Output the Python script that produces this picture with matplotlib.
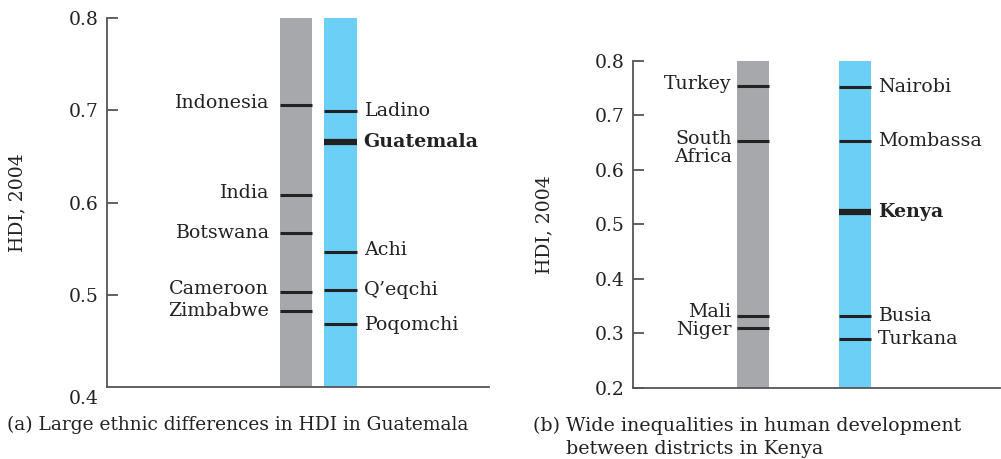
import matplotlib
matplotlib.use("Agg")
import matplotlib.pyplot as plt
import matplotlib.transforms as mtransforms

plt.rcParams['font.family'] = ['DejaVu Serif']
plt.rcParams['font.size'] = 13.7

GRAY = '#a7a8ac'
BLUE = '#6bcff6'
AXC = '#555555'
INK = '#222222'

# panel (a): Guatemala
a_left_names = ['Indonesia', 'India', 'Botswana', 'Cameroon', 'Zimbabwe']
a_left_vals = [0.705, 0.608, 0.567, 0.503, 0.483]
a_right_names = ['Ladino', 'Guatemala', 'Achi', "Q\u2019eqchi", 'Poqomchi']
a_right_vals = [0.699, 0.665, 0.546, 0.505, 0.469]
a_bold = 'Guatemala'
a_ticks = [0.4, 0.5, 0.6, 0.7, 0.8]

# panel (b): Kenya
b_left_names = ['Turkey', 'South\nAfrica', 'Mali', 'Niger']
b_left_vals = [0.754, 0.653, 0.332, 0.310]
b_right_names = ['Nairobi', 'Mombassa', 'Kenya', 'Busia', 'Turkana']
b_right_vals = [0.751, 0.653, 0.522, 0.331, 0.290]
b_bold = 'Kenya'
b_ticks = [0.2, 0.3, 0.4, 0.5, 0.6, 0.7, 0.8]

# small vertical nudges (pixels) where labels sit close together
nudge = {'Cameroon': 3, 'Indonesia': 2, 'India': 2, 'Mali': 4, 'Niger': -2,
         'Turkey': 2, 'Achi': 2, 'Poqomchi': -1}


def panel(ax, ylo, yhi, ticks, lnames, lvals, rnames, rvals, bold, w, xlim, lpad):
    xs = [0, 1]
    ax.bar(xs, yhi - ylo, bottom=ylo, width=w, color=[GRAY, BLUE], zorder=1)
    for x, names, vals, side in [(0, lnames, lvals, 'l'), (1, rnames, rvals, 'r')]:
        for n, v in zip(names, vals):
            lw = 4.5 if n == bold else 2.2
            ax.hlines(v, x - w / 2, x + w / 2, color=INK, lw=lw, zorder=2)
            dy = nudge.get(n, 0)
            if side == 'l':
                va = 'center'
                if '\n' in n:
                    va = 'top'
                    dy = 11
                ax.annotate(n, (x - w / 2, v), xytext=(-lpad, dy), textcoords='offset pixels',
                            ha='right', va=va, color=INK, linespacing=1.0)
            else:
                ax.annotate(n, (x + w / 2, v), xytext=(7, dy), textcoords='offset pixels',
                            ha='left', va='center', color=INK,
                            fontweight='bold' if n == bold else 'normal')
    ax.set_xlim(*xlim)
    ax.set_ylim(ylo, yhi)
    ax.set_yticks(ticks)
    ax.set_yticklabels(['%.1f' % t for t in ticks])
    ax.set_xticks([])
    for s in ['top', 'right']:
        ax.spines[s].set_visible(False)
    for s in ['left', 'bottom']:
        ax.spines[s].set_color(AXC)
        ax.spines[s].set_linewidth(1.3)
    ax.tick_params(axis='y', direction='in', length=8, width=1.3, color=AXC,
                   pad=6, labelcolor=INK, labelsize=13.5)
    ax.set_ylabel('HDI, 2004', color=INK, fontsize=13.5)


fig = plt.figure(figsize=(10.01, 4.59), dpi=100)
ax1 = fig.add_axes([0.1069, 0.1562, 0.3816, 0.8052])
ax2 = fig.add_axes([0.6324, 0.1553, 0.3670, 0.7124])

panel(ax1, 0.4, 0.8, a_ticks, a_left_names, a_left_vals, a_right_names, a_right_vals,
      a_bold, 0.73, (-4.25, 4.34), 11)
panel(ax2, 0.2, 0.8, b_ticks, b_left_names, b_left_vals, b_right_names, b_right_vals,
      b_bold, 0.317, (-1.17, 2.42), 5)

ax1.yaxis.set_label_coords(-0.212, 0.5)
ax2.yaxis.set_label_coords(-0.217, 0.5)

# the 0.4 label sits under the axis line in panel (a), with no tick
t0 = ax1.yaxis.get_major_ticks()[0]
t0.tick1line.set_visible(False)
t0.label1.set_transform(t0.label1.get_transform() +
                        mtransforms.ScaledTranslation(0, -10 / 100, fig.dpi_scale_trans))

fig.text(7 / 1001, 1 - 425 / 459, '(a) Large ethnic differences in HDI in Guatemala',
         ha='left', va='center', color=INK, fontsize=13.4)
fig.text(533 / 1001, 1 - 426 / 459, '(b) Wide inequalities in human development',
         ha='left', va='center', color=INK, fontsize=13.7)
fig.text(566 / 1001, 1 - 449 / 459, 'between districts in Kenya',
         ha='left', va='center', color=INK, fontsize=13.7)

fig.savefig('out.png', dpi=100)
